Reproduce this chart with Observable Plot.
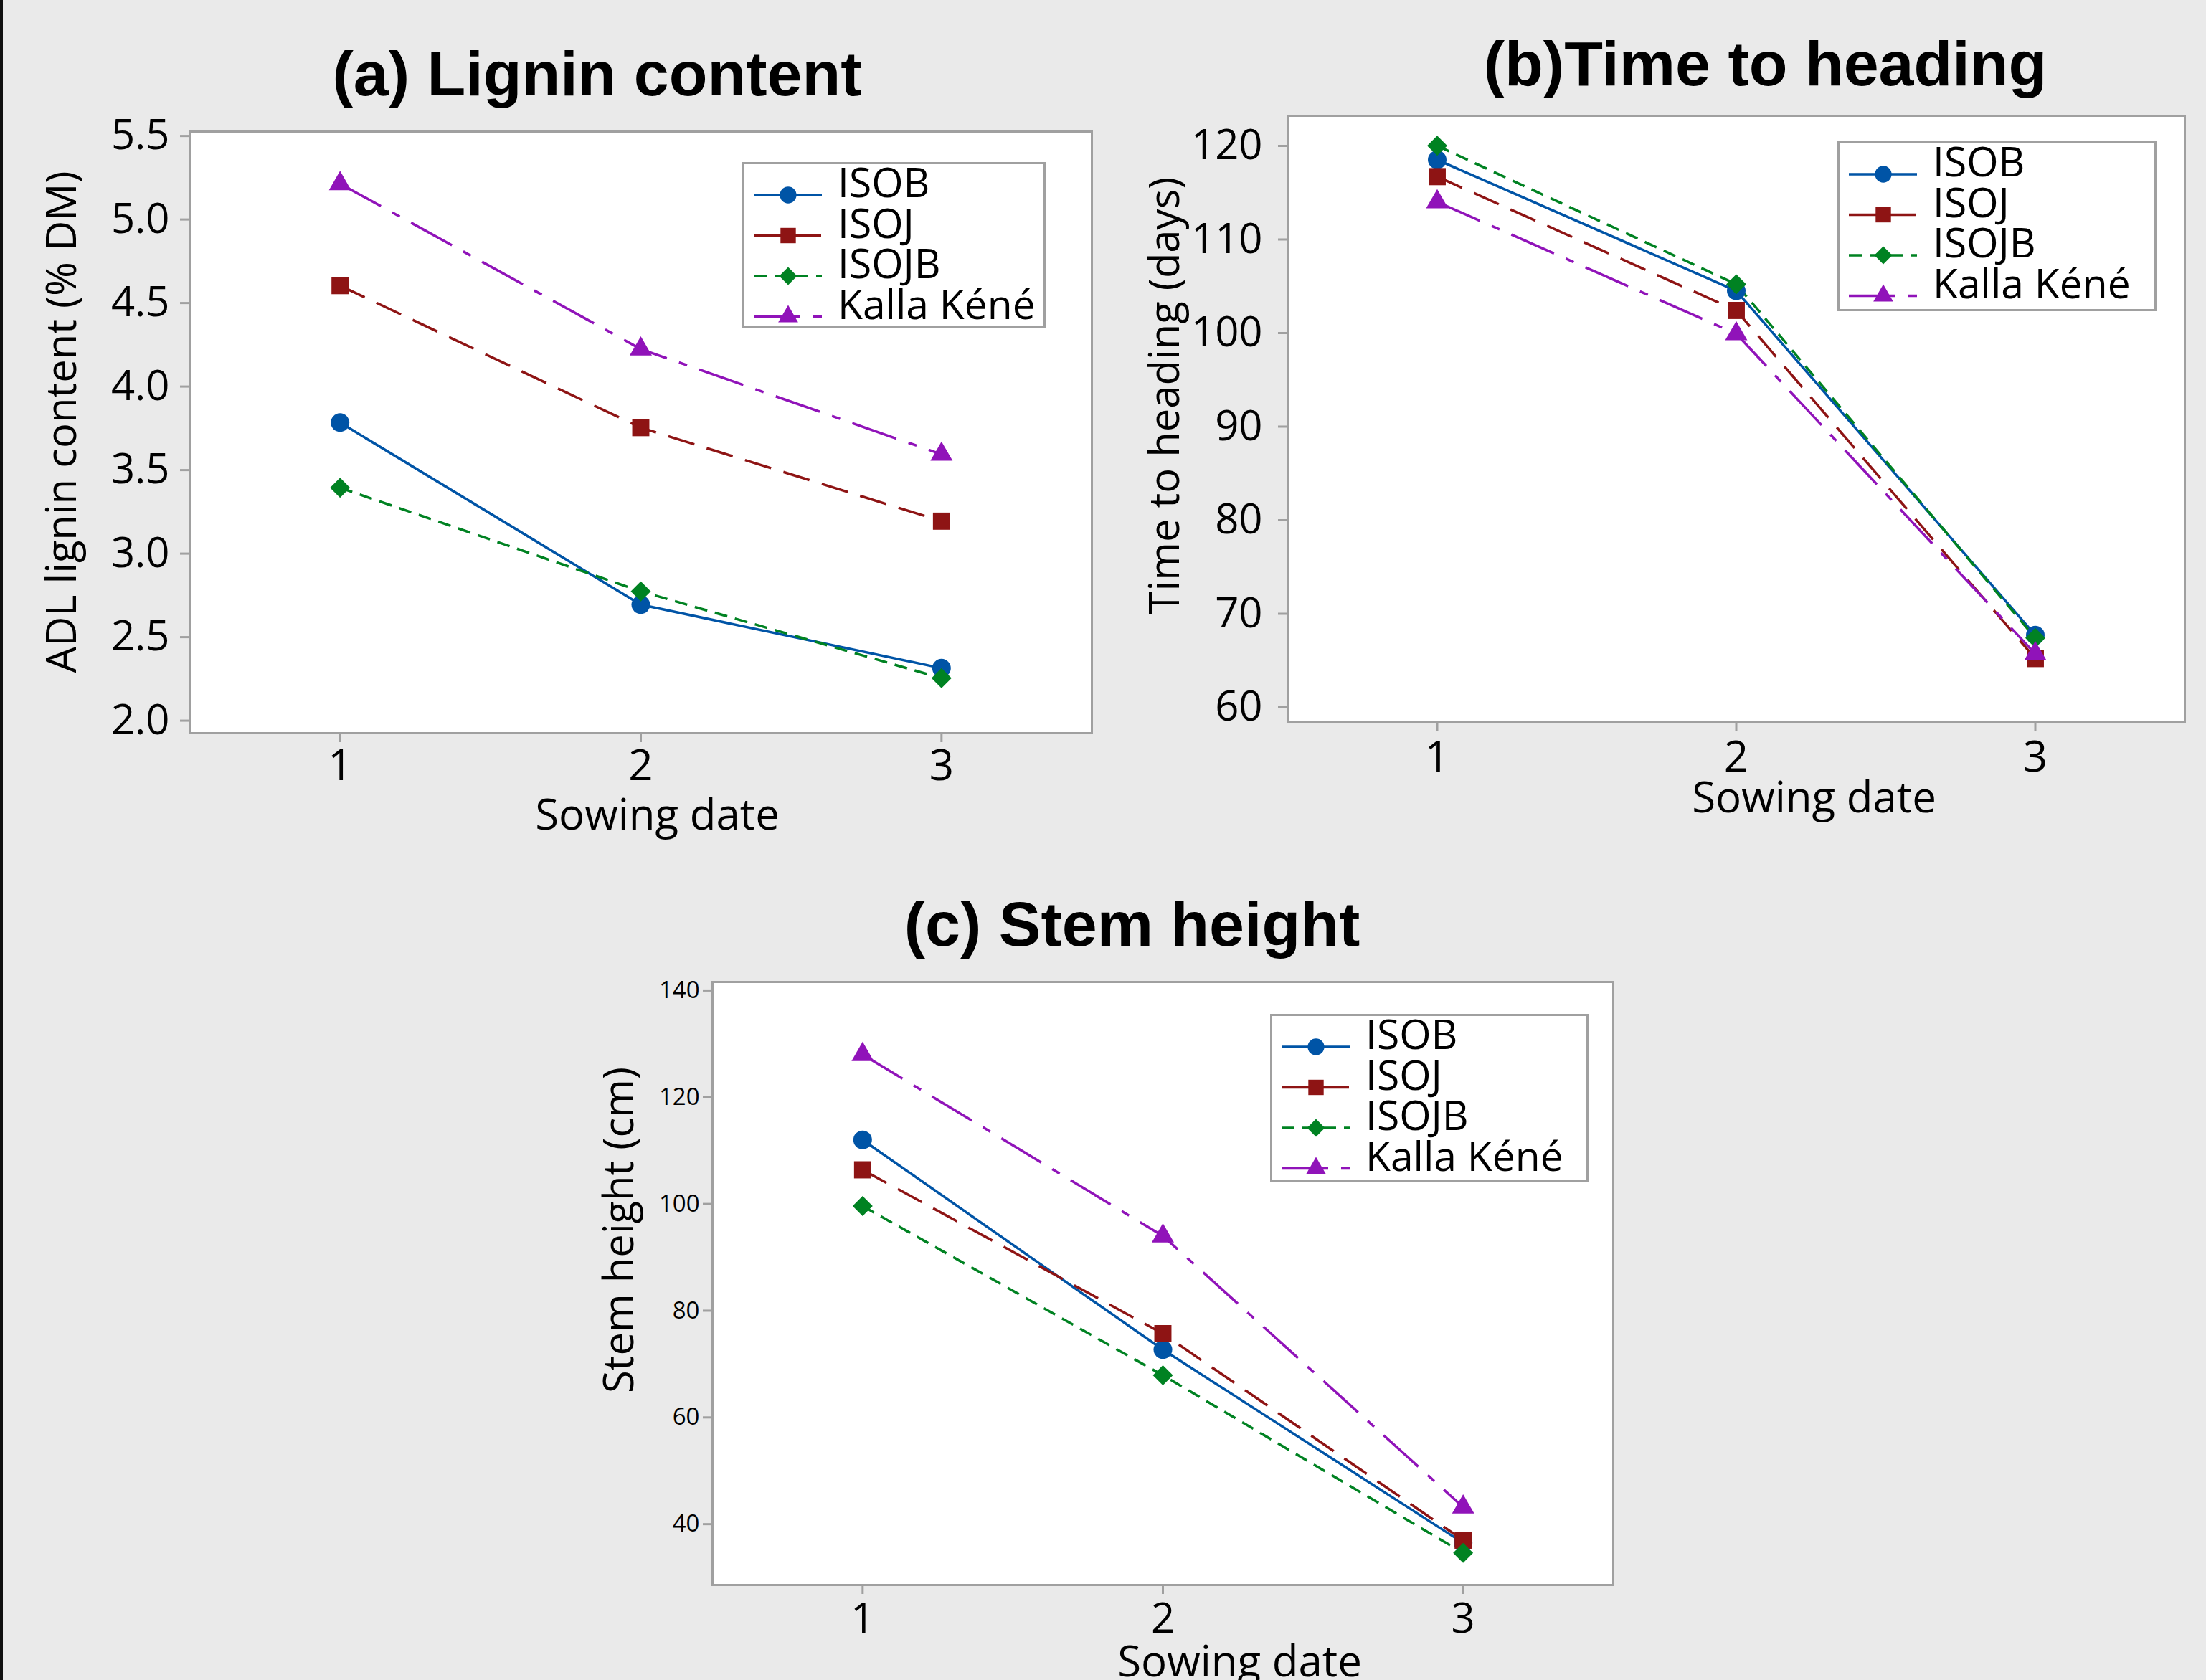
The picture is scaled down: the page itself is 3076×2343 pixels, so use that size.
<!DOCTYPE html>
<html>
<head>
<meta charset="utf-8">
<script src="https://cdn.jsdelivr.net/npm/d3@7"></script>
<script src="https://cdn.jsdelivr.net/npm/@observablehq/plot@0.6"></script>
<style>
  html, body { margin: 0; padding: 0; background: #eaeaea; }
  #page { position: relative; width: 3076px; height: 2343px; overflow: hidden; background: #eaeaea; }
  #edge { position: absolute; left: 0; top: 0; width: 4px; height: 2343px; background: #111; }
  .panel { position: absolute; }
  .panel svg { overflow: visible; }
  .legend { position: absolute; overflow: visible; }
</style>
</head>
<body>
<div id="page"><div id="edge"></div></div>
<script>
// ---------------- data ----------------
const sowingDates = [1, 2, 3];
const varieties = ["ISOB", "ISOJ", "ISOJB", "Kalla Kéné"];

// rows follow the order of `varieties`, columns follow `sowingDates`
const ligninContent = [
  [3.81, 2.72, 2.34],
  [4.63, 3.78, 3.22],
  [3.42, 2.80, 2.28],
  [5.24, 4.25, 3.62]
];
const timeToHeading = [
  [118.9, 104.9, 68.1],
  [117.1, 102.8, 65.6],
  [120.4, 105.6, 67.8],
  [114.4, 100.3, 66.1]
];
const stemHeight = [
  [112.0, 72.7, 36.5],
  [106.4, 75.7, 37.0],
  [99.6, 67.9, 34.6],
  [128.0, 94.0, 43.2]
];

const ligninTicks = [2.0, 2.5, 3.0, 3.5, 4.0, 4.5, 5.0, 5.5];
const headingTicks = [60, 70, 80, 90, 100, 110, 120];
const stemTicks = [40, 60, 80, 100, 120, 140];

const titles = ["(a) Lignin content", "(b)Time to heading", "(c) Stem height"];
const yLabels = ["ADL lignin content (% DM)", "Time to heading (days)", "Stem height (cm)"];
const xLabel = "Sowing date";

// ---------------- styles ----------------
const seriesStyle = {
  "ISOB":       {color: "#0054a6", dash: null,          symbol: "circle",   r: 13},
  "ISOJ":       {color: "#8e1414", dash: "38,18",       symbol: "square",   r: 13.5},
  "ISOJB":      {color: "#008222", dash: "18,11",       symbol: "diamond2", r: 12.6},
  "Kalla Kéné": {color: "#9013b9", dash: "65,18,12,18", symbol: "triangle", r: 11.5}
};
const axisGray = "#a0a0a0";
const textFont = "'Open Sans', 'Noto Sans', sans-serif";
const titleFont = "'Liberation Sans', Arial, sans-serif";

function tidy(values) {
  return varieties.flatMap((v, i) => sowingDates.map((d, j) => ({variety: v, date: d, value: values[i][j]})));
}

function seriesMarks(data) {
  const marks = [];
  for (const v of varieties) {
    const s = seriesStyle[v];
    marks.push(Plot.line(data.filter(d => d.variety === v), {
      x: "date", y: "value", stroke: s.color, strokeWidth: 3.5,
      strokeDasharray: s.dash || undefined, strokeLinecap: "butt"
    }));
  }
  for (const v of varieties) {
    const s = seriesStyle[v];
    marks.push(Plot.dot(data.filter(d => d.variety === v), {
      x: "date", y: "value", symbol: s.symbol, r: s.r, fill: s.color, stroke: "none"
    }));
  }
  return marks;
}

function panel(cfg) {
  const {svg, frame} = cfg;
  const mL = frame.l - svg.left, mR = svg.left + svg.w - frame.r;
  const mT = frame.t - svg.top, mB = svg.top + svg.h - frame.b;
  const at = (ax, ay) => ({frameAnchor: "top-left", dx: ax - frame.l, dy: ay - frame.t});
  const chart = Plot.plot({
    width: svg.w, height: svg.h,
    marginLeft: mL, marginRight: mR, marginTop: mT, marginBottom: mB,
    style: {background: "transparent", fontFamily: textFont, color: "#000"},
    x: {domain: [0.5, 3.5]},
    y: {domain: cfg.yDomain},
    marks: [
      Plot.frame({fill: "#ffffff", stroke: "none"}),
      ...seriesMarks(cfg.data),
      Plot.frame({stroke: axisGray, strokeWidth: 3}),
      Plot.axisX({ticks: sowingDates, tickFormat: d => String(d), tickSize: 13, tickPadding: cfg.xPad,
        stroke: axisGray, strokeWidth: 3, fill: "#000", fontSize: cfg.xTickFont, label: null}),
      Plot.axisY({ticks: cfg.yTicks, tickFormat: cfg.yFormat, tickSize: 13, tickPadding: cfg.yPad,
        stroke: axisGray, strokeWidth: 3, fill: "#000", fontSize: cfg.yTickFont, dy: cfg.yTickDy, label: null}),
      Plot.text([cfg.title], {...at(cfg.titlePos[0], cfg.titlePos[1]), fontSize: 88, fontWeight: "bold",
        fontFamily: titleFont, textAnchor: "middle", lineAnchor: "bottom", fill: "#000"}),
      Plot.text([cfg.yLabel], {...at(cfg.yLabelPos[0], cfg.yLabelPos[1]), rotate: -90, fontSize: 58,
        textAnchor: "middle", lineAnchor: "bottom", fill: "#000"}),
      Plot.text([xLabel], {...at(cfg.xLabelPos[0], cfg.xLabelPos[1]), fontSize: 60,
        textAnchor: "middle", lineAnchor: "bottom", fill: "#000"})
    ]
  });
  const holder = document.createElement("div");
  holder.className = "panel";
  holder.style.left = svg.left + "px";
  holder.style.top = svg.top + "px";
  holder.appendChild(chart);
  document.getElementById("page").appendChild(holder);
  makeLegend(cfg.legend);
}

function makeLegend(box) {
  const pad = 30;
  const svg = d3.select("#page").append("svg")
    .attr("class", "legend")
    .style("left", (box.l - pad) + "px").style("top", (box.t - pad) + "px")
    .attr("width", box.w + 2 * pad).attr("height", box.h + 2 * pad);
  const g = svg.append("g").attr("transform", `translate(${pad},${pad})`);
  g.append("rect").attr("x", 1.5).attr("y", 1.5).attr("width", box.w - 3).attr("height", box.h - 3)
    .attr("fill", "#fff").attr("stroke", axisGray).attr("stroke-width", 3);
  const symTypes = {circle: d3.symbolCircle, square: d3.symbolSquare, diamond2: d3.symbolDiamond2, triangle: d3.symbolTriangle};
  varieties.forEach((v, i) => {
    const s = seriesStyle[v];
    const ly = 46 + i * 56.5;
    g.append("line").attr("x1", 16).attr("x2", 111).attr("y1", ly).attr("y2", ly)
      .attr("stroke", s.color).attr("stroke-width", 3.5)
      .attr("stroke-dasharray", s.dash || null);
    g.append("path").attr("transform", `translate(64,${ly})`)
      .attr("d", d3.symbol(symTypes[s.symbol], s.r * s.r * Math.PI * 0.8)())
      .attr("fill", s.color);
    g.append("text").attr("x", 133).attr("y", ly + 3)
      .attr("font-family", textFont).attr("font-size", 57).attr("fill", "#000")
      .text(v);
  });
}

panel({
  svg: {left: 0, top: 0, w: 1560, h: 1200},
  frame: {l: 264, r: 1522, t: 183, b: 1022},
  yDomain: [1.951, 5.552],
  data: tidy(ligninContent),
  yTicks: ligninTicks, yFormat: d3.format(".1f"),
  xPad: 10, yPad: 15, yTickDy: -6, xTickFont: 60, yTickFont: 58,
  title: titles[0], titlePos: [832, 132],
  yLabel: yLabels[0], yLabelPos: [105, 588],
  xLabelPos: [916, 1156],
  legend: {l: 1035, t: 226, w: 423, h: 232}
});

panel({
  svg: {left: 1540, top: 0, w: 1536, h: 1200},
  frame: {l: 1795, r: 3046, t: 161, b: 1006},
  yDomain: [58.85, 123.6],
  data: tidy(timeToHeading),
  yTicks: headingTicks, yFormat: d3.format("d"),
  xPad: 14, yPad: 22, yTickDy: -5, xTickFont: 60, yTickFont: 58,
  title: titles[1], titlePos: [2461, 118],
  yLabel: yLabels[1], yLabelPos: [1643, 551],
  xLabelPos: [2529, 1132],
  legend: {l: 2562, t: 197, w: 445, h: 237}
});

panel({
  svg: {left: 780, top: 1200, w: 1500, h: 1143},
  frame: {l: 993, r: 2249, t: 1369, b: 2210},
  yDomain: [28.6, 141.6],
  data: tidy(stemHeight),
  yTicks: stemTicks, yFormat: d3.format("d"),
  xPad: 12, yPad: 5, yTickDy: 0, xTickFont: 58, yTickFont: 33,
  title: titles[2], titlePos: [1578, 1318],
  yLabel: yLabels[2], yLabelPos: [882, 1715],
  xLabelPos: [1728, 2337],
  legend: {l: 1771, t: 1414, w: 444, h: 234}
});
</script>
</body>
</html>
